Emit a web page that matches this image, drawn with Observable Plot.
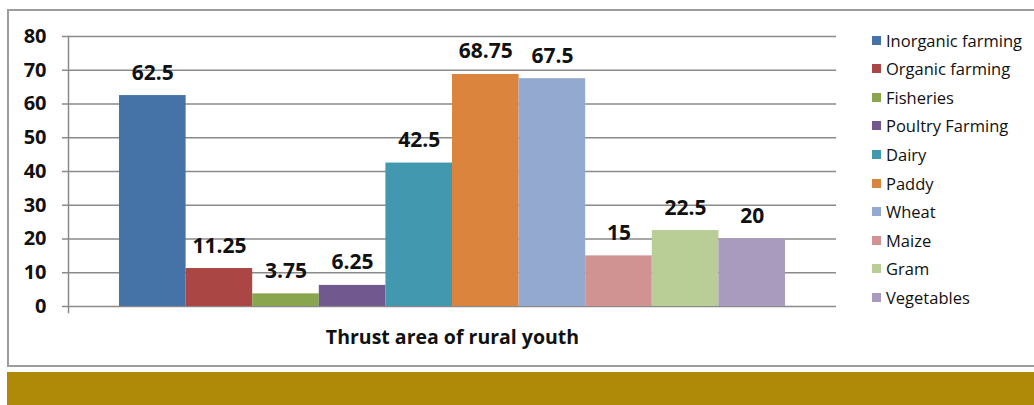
<!DOCTYPE html>
<html>
<head>
<meta charset="utf-8">
<script src="https://cdn.jsdelivr.net/npm/d3@7"></script>
<script src="https://cdn.jsdelivr.net/npm/@observablehq/plot@0.6"></script>
<style>
  html, body { margin: 0; padding: 0; background: #fff; width: 1034px; height: 405px; overflow: hidden; }
  #frame { position: absolute; left: 7px; top: 9px; width: 1040px; height: 358px; border: 2px solid #9c9c9c; box-sizing: border-box; background: #fff; }
  #band { position: absolute; left: 7px; top: 372px; width: 1040px; height: 40px; background: #ae8a08; }
  #chart { position: absolute; left: 0; top: 0; }
  #legend { position: absolute; left: 872px; top: 26px; font-family: "Open Sans", sans-serif; font-size: 16.5px; color: #111; }
  .item { height: 28.55px; display: flex; align-items: center; }
  .sw { width: 9px; height: 9px; margin-right: 5px; }
</style>
</head>
<body>
<div id="frame"></div>
<div id="band"></div>
<div id="chart"></div>
<div id="legend"></div>
<script>
const categories = ["Inorganic farming", "Organic farming", "Fisheries", "Poultry Farming", "Dairy", "Paddy", "Wheat", "Maize", "Gram", "Vegetables"];
const values = [62.5, 11.25, 3.75, 6.25, 42.5, 68.75, 67.5, 15, 22.5, 20];
const colors = ["#4572a7", "#aa4643", "#89a54e", "#71588f", "#4198af", "#db843d", "#93a9cf", "#d19392", "#b9cd96", "#a99bbd"];
const yTicks = [0, 10, 20, 30, 40, 50, 60, 70, 80];
const axisTitle = "Thrust area of rural youth";

const data = categories.map((c, i) => ({category: c, value: values[i]}));
const font = "Open Sans, sans-serif";

const chart = Plot.plot({
  width: 1034,
  height: 372,
  marginLeft: 68,
  marginRight: 198,
  marginTop: 36,
  marginBottom: 66,
  style: {fontFamily: font, background: "transparent", color: "#111"},
  x: {domain: categories, paddingInner: 0, paddingOuter: 0.766, round: false, axis: null},
  y: {domain: [0, 80], ticks: yTicks, label: null},
  color: {domain: categories, range: colors},
  marks: [
    Plot.gridY(yTicks, {stroke: "#8a8a8a", strokeOpacity: 1, strokeWidth: 1.5}),
    Plot.axisY(yTicks, {tickSize: 6, tickPadding: 16, stroke: "#8a8a8a", strokeWidth: 1.5, fontSize: 20, fontWeight: "bold", fill: "#111", label: null}),
    Plot.frame({anchor: "left", stroke: "#8a8a8a", strokeWidth: 1.5, insetBottom: -6}),
    Plot.barY(data, {x: "category", y: "value", fill: "category"}),
    Plot.text(data, {x: "category", y: "value", text: d => String(d.value), lineAnchor: "bottom", dy: -16, fontSize: 21, fontWeight: "bold", fill: "#111"}),
    Plot.text([axisTitle], {frameAnchor: "bottom", lineAnchor: "middle", dy: 31, fontSize: 19.5, fontWeight: "bold", fill: "#111"})
  ]
});
document.getElementById("chart").appendChild(chart);

const legend = document.getElementById("legend");
categories.forEach((c, i) => {
  const item = document.createElement("div");
  item.className = "item";
  const sw = document.createElement("div");
  sw.className = "sw";
  sw.style.background = colors[i];
  const label = document.createElement("span");
  label.textContent = c;
  item.appendChild(sw);
  item.appendChild(label);
  legend.appendChild(item);
});
</script>
</body>
</html>
